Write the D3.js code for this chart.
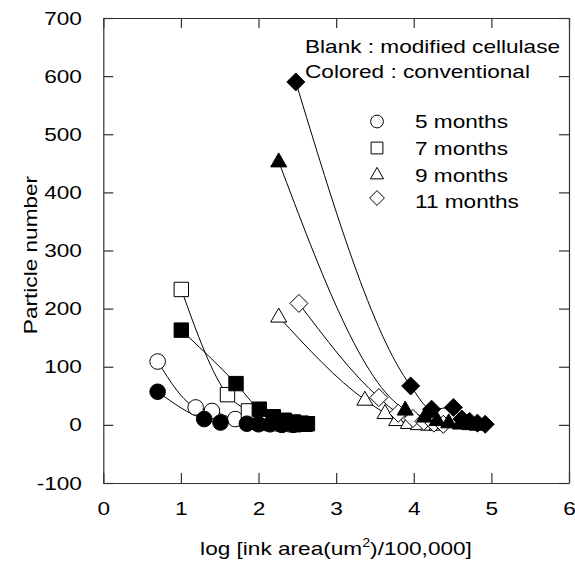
<!DOCTYPE html>
<html>
<head>
<meta charset="utf-8">
<script src="https://cdn.jsdelivr.net/npm/d3@7"></script>
<style>
  body { margin: 0; background: #fff; }
  svg { display: block; }
  text { font-family: "Liberation Sans", Arial, Helvetica, sans-serif; fill: #000; }
</style>
</head>
<body>
<svg id="chart" width="575" height="565"></svg>
<script>
// ---- data (x = log ink area, y = particle number) ----
const xTicks = [0, 1, 2, 3, 4, 5, 6];
const yTicks = [-100, 0, 100, 200, 300, 400, 500, 600, 700];

const blank5  = [[0.70,109],[1.19,30],[1.40,24],[1.70,10],[1.95,5],[2.10,3],[2.25,2],[2.40,1],[2.52,1]];
const blank7  = [[1.005,233],[1.60,52],[1.87,24],[2.05,12],[2.20,6],[2.35,3],[2.50,2],[2.60,1]];
const blank9  = [[2.26,186],[3.37,43],[3.63,20],[3.78,8],[3.93,3],[4.06,1],[4.19,0],[4.30,0]];
const blank11 = [[2.52,209],[3.55,47],[3.80,20],[3.99,11],[4.13,6],[4.26,3],[4.38,1]];

const conv5  = [[0.70,57],[1.30,10],[1.51,4],[1.85,2],[2.00,1],[2.15,1],[2.30,0],[2.45,0]];
const conv7  = [[1.005,163],[1.71,71],[2.01,27],[2.19,14],[2.33,8],[2.45,5],[2.55,3],[2.63,2]];
const conv9  = [[2.26,453],[3.89,26],[4.14,14],[4.30,8],[4.45,4],[4.60,2],[4.72,1],[4.83,0]];
const conv11 = [[2.48,590],[3.96,67],[4.23,27],[4.51,30],[4.62,10],[4.72,6],[4.82,3],[4.92,1]];

const legendLabels = ["5 months", "7 months", "9 months", "11 months"];
const noteLines = ["Blank : modified cellulase", "Colored : conventional"];
const xTitle = ["log [ink area(um", "2", ")/100,000]"];
const yTitle = "Particle number";

// ---- layout ----
const svg = d3.select("#chart");
const L = 103.3, R = 569, T = 18, B = 483;
const SX = 1.19; // horizontal text stretch of the original
const FS = 19;

const x = d3.scaleLinear().domain([0, 6]).range([L, R]);
const y = d3.scaleLinear().domain([-100, 700]).range([B, T]);

const axisColor = "#333";
const plainFmt = d => String(d);

function styleAxis(g) {
  g.selectAll(".domain").attr("stroke", axisColor).attr("stroke-width", 1.2);
  g.selectAll(".tick line").attr("stroke", axisColor).attr("stroke-width", 1.2);
  g.selectAll("text").attr("font-size", FS).attr("font-family", '"Liberation Sans", Arial, sans-serif').attr("fill", "#000");
}

// bottom
svg.append("g").attr("transform", `translate(0,${B})`)
  .call(d3.axisBottom(x).tickValues(xTicks).tickSizeInner(-10).tickSizeOuter(0).tickPadding(19).tickFormat(plainFmt))
  .call(styleAxis)
  .call(g => g.selectAll("text").attr("transform", `scale(${SX},1)`));
// top
svg.append("g").attr("transform", `translate(0,${T})`)
  .call(d3.axisTop(x).tickValues(xTicks).tickSizeInner(-10).tickSizeOuter(0).tickFormat(""))
  .call(styleAxis);
// left
svg.append("g").attr("transform", `translate(${L},0)`)
  .call(d3.axisLeft(y).tickValues(yTicks).tickSizeInner(-10).tickSizeOuter(0).tickPadding(18).tickFormat(plainFmt))
  .call(styleAxis)
  .call(g => g.selectAll("text").attr("transform", `scale(${SX},1)`));
// right
svg.append("g").attr("transform", `translate(${R},0)`)
  .call(d3.axisRight(y).tickValues(yTicks).tickSizeInner(-10).tickSizeOuter(0).tickFormat(""))
  .call(styleAxis);

// ---- curves ----
const line = d3.line().x(d => x(d[0])).y(d => y(d[1])).curve(d3.curveMonotoneX);
const allSeries = [
  {data: blank5,  shape: "circle",   filled: false},
  {data: blank7,  shape: "square",   filled: false},
  {data: blank9,  shape: "triangle", filled: false},
  {data: blank11, shape: "diamond",  filled: false},
  {data: conv5,   shape: "circle",   filled: true},
  {data: conv7,   shape: "square",   filled: true},
  {data: conv9,   shape: "triangle", filled: true},
  {data: conv11,  shape: "diamond",  filled: true}
];

const lineG = svg.append("g");
allSeries.forEach(s => {
  lineG.append("path").attr("d", line(s.data))
    .attr("fill", "none").attr("stroke", "#000").attr("stroke-width", 1);
});

// ---- markers ----
function shapePath(shape, k) {
  switch (shape) {
    case "circle": {
      const r = 7.8 * k;
      return `M${-r},0A${r},${r} 0 1,0 ${r},0A${r},${r} 0 1,0 ${-r},0Z`;
    }
    case "square": {
      const h = 7.2 * k;
      return `M${-h},${-h}H${h}V${h}H${-h}Z`;
    }
    case "triangle": {
      const w = 8 * k, hh = 14 * k;
      return `M0,${-hh * 0.62}L${w},${hh * 0.38}L${-w},${hh * 0.38}Z`;
    }
    case "diamond": {
      const d = 9 * k;
      return `M0,${-d}L${d},0L0,${d}L${-d},0Z`;
    }
  }
}

const markG = svg.append("g");
allSeries.forEach(s => {
  markG.selectAll(null).data(s.data).enter().append("path")
    .attr("transform", d => `translate(${x(d[0])},${y(d[1])})`)
    .attr("d", shapePath(s.shape, 1))
    .attr("fill", s.filled ? "#000" : "#fff")
    .attr("stroke", "#000").attr("stroke-width", 1);
});

// ---- annotations ----
function stretchedText(px, py, str, anchor) {
  return svg.append("text")
    .attr("transform", `translate(${px},${py}) scale(${SX},1)`)
    .attr("font-size", FS).attr("text-anchor", anchor || "start")
    .text(str);
}
stretchedText(305, 53, noteLines[0]);
stretchedText(305, 78, noteLines[1]);

// legend
const legendShapes = ["circle", "square", "triangle", "diamond"];
const legY = [128, 155, 181.5, 208];
const legSymY = [121.5, 148, 174.5, 198];
legendLabels.forEach((lab, i) => {
  svg.append("path")
    .attr("transform", `translate(377,${legSymY[i]})`)
    .attr("d", shapePath(legendShapes[i], 0.82))
    .attr("fill", "#fff").attr("stroke", "#000").attr("stroke-width", 1);
  stretchedText(415, legY[i], lab);
});

// x title with superscript
const xt = svg.append("text")
  .attr("transform", `translate(336,555) scale(${SX},1)`)
  .attr("font-size", FS).attr("text-anchor", "middle");
xt.append("tspan").text(xTitle[0]);
xt.append("tspan").attr("font-size", 12).attr("dy", -8).text(xTitle[1]);
xt.append("tspan").attr("dy", 8).text(xTitle[2]);

// y title
svg.append("text")
  .attr("transform", `translate(37,255) rotate(-90) scale(${SX},1)`)
  .attr("font-size", FS).attr("text-anchor", "middle")
  .text(yTitle);
</script>
</body>
</html>
